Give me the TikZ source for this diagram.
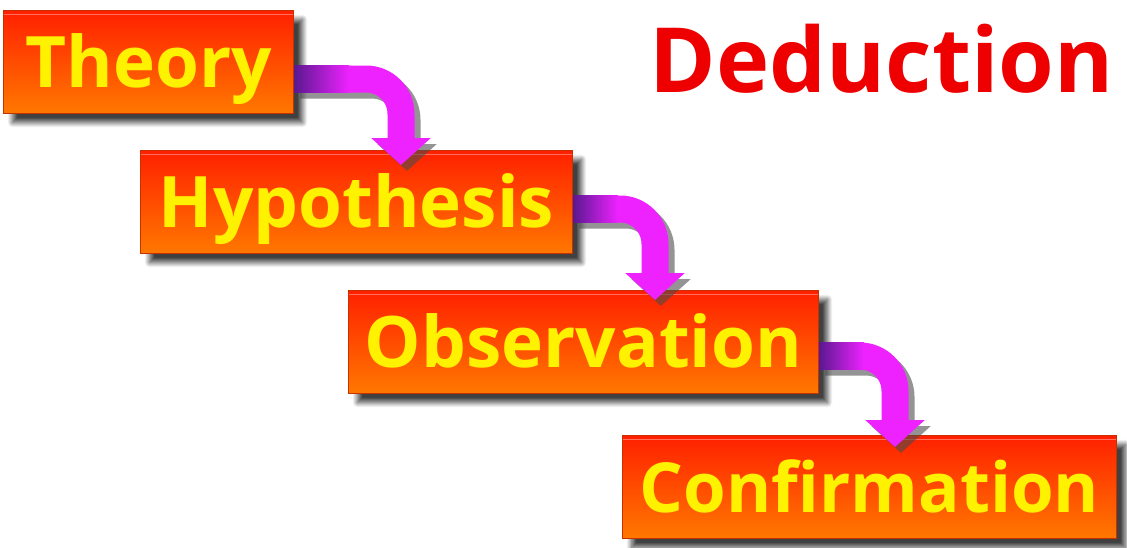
\documentclass[tikz,border=0pt]{standalone}
\usepackage{fontspec}
\setmainfont{Open Sans}
\usetikzlibrary{shadows,shadows.blur,arrows.meta}

\definecolor{boxtop}{HTML}{FF2000}
\definecolor{boxbottom}{HTML}{FF7800}
\definecolor{boxline}{HTML}{C83000}
\definecolor{flowpink}{HTML}{EE22FF}
\definecolor{flowdark}{HTML}{5A1890}
\definecolor{titlered}{HTML}{EE0000}

\begin{document}
\begin{tikzpicture}[x=1pt, y=-1pt,
  stepbox/.style={draw=boxline, line width=1pt, top color=boxtop, bottom color=boxbottom,
    anchor=north west, minimum height=103pt, inner sep=0pt, text=yellow,
    font=\fontsize{71}{71}\selectfont\bfseries, text height=51pt, text depth=0pt,
    blur shadow={shadow xshift=9pt, shadow yshift=-9pt, shadow blur radius=5pt, shadow blur steps=10, shadow opacity=75},
    path picture={\draw[white, opacity=.35, line width=1.5pt]
      ([yshift=-4pt]path picture bounding box.north west) -- ([yshift=-4pt]path picture bounding box.north east);}},
  flow/.style={draw=flowpink, line width=27pt, rounded corners=35pt, -{Triangle[length=27pt,width=58pt]}},
  flowshadow/.style={flow, draw=black!60, opacity=.6, transform canvas={shift={(6pt,-6pt)}}},
]
  \useasboundingbox (0,0) rectangle (1127,547);

  \node[stepbox, minimum width=290pt] (theory) at (3,10) {Theory};
  \node[stepbox, minimum width=432pt] (hypo) at (140,150) {Hypothesis};
  \node[stepbox, minimum width=470pt] (obs) at (348,290) {Observation};
  \node[stepbox, minimum width=494pt, font=\fontsize{69}{69}\selectfont\bfseries] (conf) at (622,435) {Confirmation};

  \node[text=titlered, font=\fontsize{90}{90}\selectfont\bfseries, anchor=base east] (title) at (1117,92) {Deduction};

  % arrow ends
  \coordinate (tip1) at (401,165);
  \coordinate (tip2) at (655,300);
  \coordinate (tip3) at (895,447);

  \begin{scope}[transparency group, opacity=.6]
    \draw[flow, draw=black!70, transform canvas={shift={(6pt,-6pt)}}] ([yshift=-17pt]theory.east) -| (tip1);
    \draw[flow, draw=black!70, transform canvas={shift={(6pt,-6pt)}}] ([yshift=-7pt]hypo.east) -| (tip2);
    \draw[flow, draw=black!70, transform canvas={shift={(6pt,-6pt)}}] ([yshift=-14pt]obs.east) -| (tip3);
  \end{scope}

  \draw[flow] ([yshift=-17pt]theory.east) -| (tip1);
  \draw[flow] ([yshift=-7pt]hypo.east) -| (tip2);
  \draw[flow] ([yshift=-14pt]obs.east) -| (tip3);

  \shade[left color=flowdark, right color=flowpink] ([yshift=-3.5pt]theory.east) rectangle ++(55,27);
  \shade[left color=flowdark, right color=flowpink] ([yshift=6.5pt]hypo.east) rectangle ++(45,27);
  \shade[left color=flowdark, right color=flowpink] ([yshift=-0.5pt]obs.east) rectangle ++(45,27);
\end{tikzpicture}
\end{document}
